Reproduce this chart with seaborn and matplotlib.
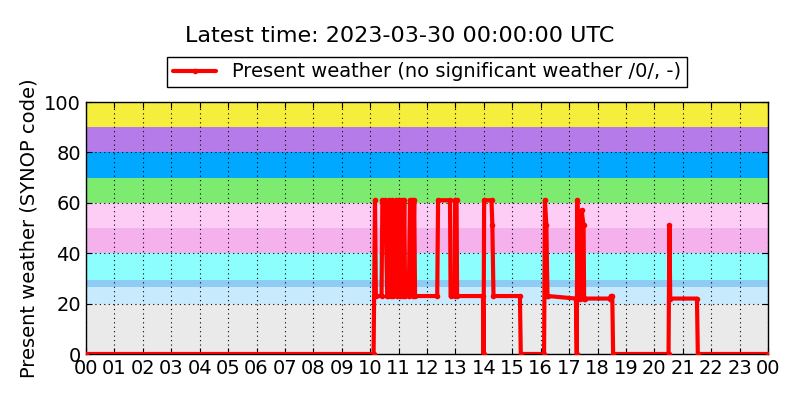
import numpy as np
import pandas as pd
import matplotlib
matplotlib.use('Agg')
import matplotlib.pyplot as plt
import seaborn as sns

# Present weather code (SYNOP) through the day, hours UTC
hours = [0.0, 10.12, 10.17, 10.20, 10.40, 10.43, 10.52, 10.55, 10.60, 10.63,
         10.67, 10.72, 10.78, 10.82, 10.90, 10.94, 11.00, 11.05, 11.12, 11.16,
         11.20, 11.23, 11.36, 11.40, 11.46, 11.49, 11.55, 11.58,
         12.36, 12.39, 12.81, 12.83, 12.97, 12.99, 13.04, 13.06, 13.97, 13.99,
         14.01, 14.27, 14.30, 14.34, 15.27, 15.30, 16.12, 16.15, 16.20, 16.24,
         16.26, 17.24, 17.27, 17.29, 17.32, 17.40, 17.44, 17.51, 17.53, 17.56,
         18.43, 18.47, 18.52, 18.55, 20.50, 20.53, 20.56, 21.50, 21.53, 24.0]
codes = [0, 0, 61, 23, 23, 61, 61, 51, 23, 23,
         61, 23, 61, 23, 61, 23, 61, 23, 61, 23,
         61, 23, 23, 61, 61, 23, 61, 23,
         23, 61, 61, 23, 23, 61, 61, 23, 23, 0,
         61, 61, 51, 23, 23, 0, 0, 61, 51, 23,
         23, 22, 0, 61, 22, 22, 57, 51, 22, 22,
         22, 23, 23, 0, 0, 51, 22, 22, 0, 0]

band_lo = [0, 20, 26.5, 29.5, 40, 50, 60, 70, 80, 90]
band_hi = [20, 26.5, 29.5, 40, 50, 60, 70, 80, 90, 100]
band_col = ['#eaeaea', '#c8eafd', '#8ecbf5', '#8dfefe', '#f5b1ec',
            '#fdcdf5', '#7ceb6f', '#00a9ff', '#b57ce9', '#f6ee3c']

hour_labels = ['%02d' % (h % 24) for h in range(25)]

df = pd.DataFrame({'hour': hours, 'code': codes})

sns.set_style('ticks')
plt.rcParams['font.family'] = ['DejaVu Sans']
plt.rcParams['text.color'] = 'black'
plt.rcParams['axes.labelcolor'] = 'black'
plt.rcParams['xtick.color'] = 'black'
plt.rcParams['ytick.color'] = 'black'

fig = plt.figure(figsize=(8, 4), dpi=100)
ax = fig.add_axes([0.1075, 0.115, 0.8525, 0.63])

for lo, hi, c in zip(band_lo, band_hi, band_col):
    ax.axhspan(lo, hi, color=c, lw=0, zorder=0)

sns.lineplot(data=df, x='hour', y='code', sort=False, estimator=None, ax=ax,
             color='red', lw=3, marker='o', ms=4, mec='red', mew=0,
             label='Present weather (no significant weather /0/, -)', zorder=3)

ax.set_xlim(0, 24)
ax.set_ylim(0, 100)
ax.set_xticks(range(25))
ax.set_xticklabels(hour_labels)
ax.set_yticks([0, 20, 40, 60, 80, 100])
ax.tick_params(axis='both', labelsize=14, direction='in', top=True, right=True,
               length=4, color='black', labelcolor='black')
ax.set_xlabel('')
ax.set_ylabel('Present weather (SYNOP code)', fontsize=14, color='black')
ax.grid(True, color='black', linestyle=(0, (1, 3)), lw=0.8)
ax.set_axisbelow(False)
for s in ax.spines.values():
    s.set_color('black')
    s.set_linewidth(1)
    s.set_zorder(2)

fig.suptitle('Latest time: 2023-03-30 00:00:00 UTC', fontsize=16, y=0.935,
             color='black')
leg = ax.legend(loc='lower center', bbox_to_anchor=(0.5, 1.02), fontsize=14,
                fancybox=False, framealpha=1, edgecolor='black', numpoints=1,
                borderpad=0.3, handlelength=2.2)
leg.get_frame().set_linewidth(1)
for t in leg.get_texts():
    t.set_color('black')

fig.savefig('out.png', dpi=100)
